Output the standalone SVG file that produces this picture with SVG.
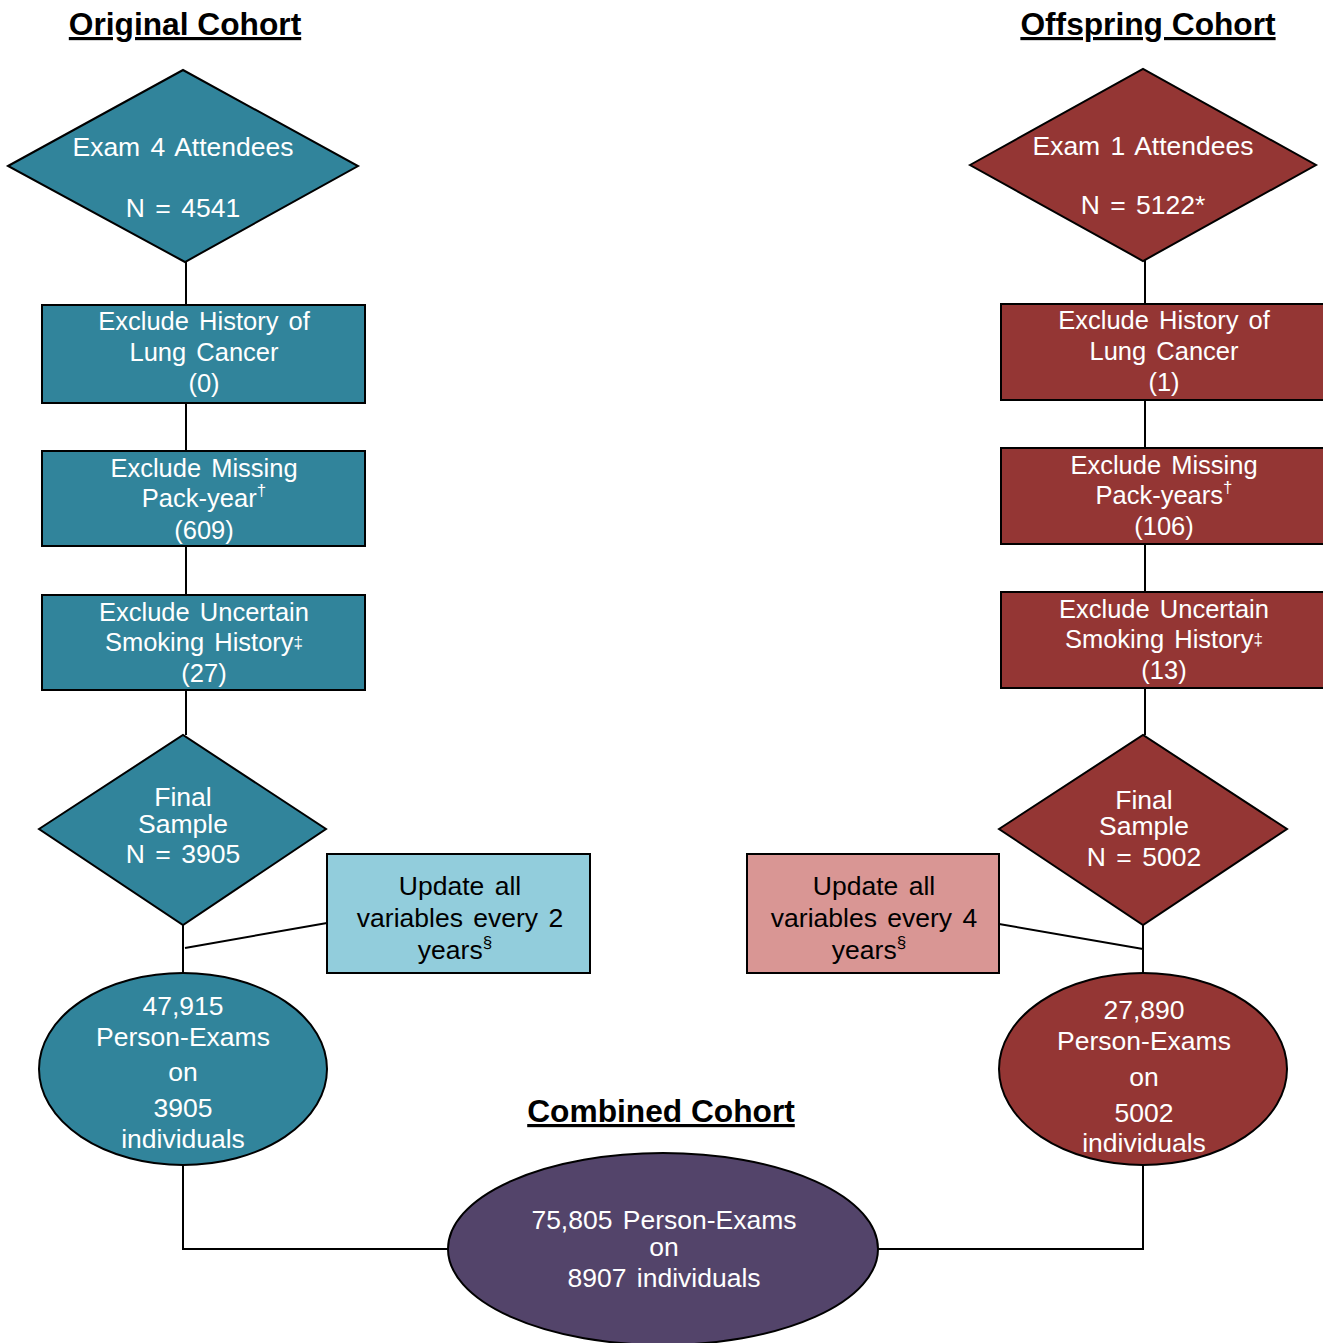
<svg xmlns="http://www.w3.org/2000/svg" width="1323" height="1343" viewBox="0 0 1323 1343">
<style>
.t{font-family:"Liberation Sans",Arial,sans-serif;font-size:26.5px;fill:#fff;text-anchor:middle;word-spacing:3px}
.b{font-size:25.5px}
.k{fill:#000}
.h{font-family:"Liberation Sans",Arial,sans-serif;font-size:31.7px;font-weight:bold;text-decoration:underline;text-anchor:middle}
.teal{fill:#31849B;stroke:#000;stroke-width:2}
.red{fill:#943634;stroke:#000;stroke-width:2}
.sup{font-size:17px}
.ln{fill:none;stroke:#000;stroke-width:2}
</style>
<rect width="1323" height="1343" fill="#fff"/>
<text class="h" x="185" y="35">Original Cohort</text>
<text class="h" x="1148" y="35">Offspring Cohort</text>
<text class="h" x="661" y="1122">Combined Cohort</text>
<g id="connectors">
<path class="ln" d="M186 255V305M186 403V451M186 546V595M186 690V735"/>
<path class="ln" d="M183 925V973M185 948L327 923"/>
<path class="ln" d="M183 1165V1249H448M878 1249H1143V1165"/>
<path class="ln" d="M1145 255V304M1145 400V448M1145 544V592M1145 688V735"/>
<path class="ln" d="M1143 925V973M999 924L1143 949"/>
</g>
<g id="orig-exam4">
<polygon class="teal" points="8,166 183,70 358,166 185,262"/>
<text class="t" x="183" y="156">Exam 4 Attendees</text>
<text class="t" x="183" y="217">N = 4541</text>
</g>
<g id="orig-excl-lung">
<rect class="teal" x="42" y="305" width="323" height="98"/>
<text class="t b" x="204" y="330">Exclude History of</text>
<text class="t b" x="204" y="361">Lung Cancer</text>
<text class="t b" x="204" y="392">(0)</text>
</g>
<g id="orig-excl-pack">
<rect class="teal" x="42" y="451" width="323" height="95"/>
<text class="t b" x="204" y="477">Exclude Missing</text>
<text class="t b" x="204" y="507">Pack-year<tspan class="sup" dy="-11">†</tspan></text>
<text class="t b" x="204" y="539">(609)</text>
</g>
<g id="orig-excl-smoke">
<rect class="teal" x="42" y="595" width="323" height="95"/>
<text class="t b" x="204" y="621">Exclude Uncertain</text>
<text class="t b" x="204" y="651">Smoking History<tspan class="sup" dy="-3">‡</tspan></text>
<text class="t b" x="204" y="682">(27)</text>
</g>
<g id="orig-final">
<polygon class="teal" points="39,829 183,735 326,829 183,925"/>
<text class="t" x="183" y="806">Final</text>
<text class="t" x="183" y="833">Sample</text>
<text class="t" x="183" y="863">N = 3905</text>
</g>
<g id="orig-update">
<rect x="327" y="854" width="263" height="119" fill="#92CDDC" stroke="#000" stroke-width="2"/>
<text class="t k" x="460" y="895">Update all</text>
<text class="t k" x="460" y="927">variables every 2</text>
<text class="t k" x="455" y="959">years<tspan class="sup" dy="-11">§</tspan></text>
</g>
<g id="orig-exams">
<ellipse class="teal" cx="183" cy="1069" rx="144" ry="96"/>
<text class="t" x="183" y="1015">47,915</text>
<text class="t" x="183" y="1046">Person-Exams</text>
<text class="t" x="183" y="1081">on</text>
<text class="t" x="183" y="1117">3905</text>
<text class="t" x="183" y="1148">individuals</text>
</g>
<g id="off-exam1">
<polygon class="red" points="970,165 1143,69 1316,165 1143,261"/>
<text class="t" x="1143" y="155">Exam 1 Attendees</text>
<text class="t" x="1143" y="214">N = 5122*</text>
</g>
<g id="off-excl-lung">
<rect class="red" x="1001" y="304" width="330" height="96"/>
<text class="t b" x="1164" y="329">Exclude History of</text>
<text class="t b" x="1164" y="360">Lung Cancer</text>
<text class="t b" x="1164" y="391">(1)</text>
</g>
<g id="off-excl-pack">
<rect class="red" x="1001" y="448" width="330" height="96"/>
<text class="t b" x="1164" y="474">Exclude Missing</text>
<text class="t b" x="1164" y="504">Pack-years<tspan class="sup" dy="-11">†</tspan></text>
<text class="t b" x="1164" y="535">(106)</text>
</g>
<g id="off-excl-smoke">
<rect class="red" x="1001" y="592" width="330" height="96"/>
<text class="t b" x="1164" y="618">Exclude Uncertain</text>
<text class="t b" x="1164" y="648">Smoking History<tspan class="sup" dy="-3">‡</tspan></text>
<text class="t b" x="1164" y="679">(13)</text>
</g>
<g id="off-final">
<polygon class="red" points="999,829 1143,735 1287,829 1143,925"/>
<text class="t" x="1144" y="809">Final</text>
<text class="t" x="1144" y="835">Sample</text>
<text class="t" x="1144" y="866">N = 5002</text>
</g>
<g id="off-update">
<rect x="747" y="854" width="252" height="119" fill="#D99694" stroke="#000" stroke-width="2"/>
<text class="t k" x="874" y="895">Update all</text>
<text class="t k" x="874" y="927">variables every 4</text>
<text class="t k" x="869" y="959">years<tspan class="sup" dy="-11">§</tspan></text>
</g>
<g id="off-exams">
<ellipse class="red" cx="1143" cy="1069" rx="144" ry="96"/>
<text class="t" x="1144" y="1019">27,890</text>
<text class="t" x="1144" y="1050">Person-Exams</text>
<text class="t" x="1144" y="1086">on</text>
<text class="t" x="1144" y="1122">5002</text>
<text class="t" x="1144" y="1152">individuals</text>
</g>
<g id="combined">
<ellipse cx="663" cy="1249" rx="215" ry="96" fill="#53446A" stroke="#000" stroke-width="2"/>
<text class="t" x="664" y="1229">75,805 Person-Exams</text>
<text class="t" x="664" y="1256">on</text>
<text class="t" x="664" y="1287">8907 individuals</text>
</g>
</svg>
